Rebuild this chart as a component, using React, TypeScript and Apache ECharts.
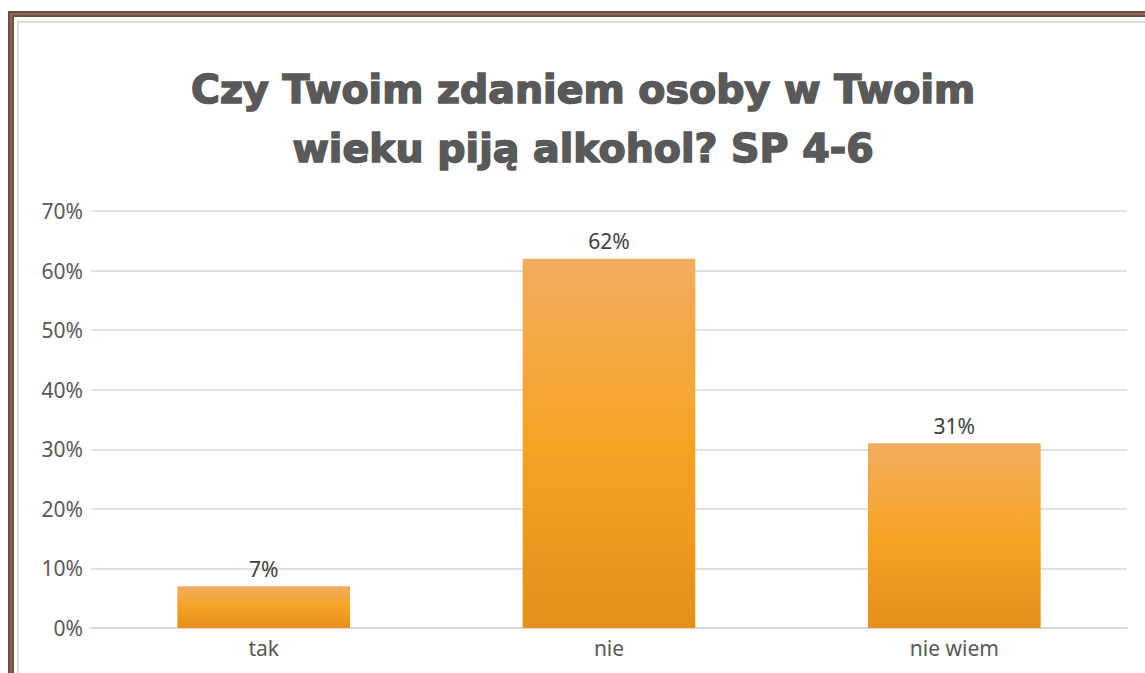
import React, { useEffect, useRef } from "react";
import * as echarts from "echarts";

const categories: string[] = ["tak", "nie", "nie wiem"];
const values: number[] = [7, 62, 31];
const yTicks = { min: 0, max: 70, interval: 10 };
const titleLines: string[] = ["Czy Twoim zdaniem osoby w Twoim", "wieku piją alkohol? SP 4-6"];

export default function App() {
  const ref = useRef<HTMLDivElement>(null);
  useEffect(() => {
    if (!ref.current) return;
    const chart = echarts.init(ref.current, null, { renderer: "svg" });
    const labelFont = "'Noto Sans', 'Open Sans', sans-serif";
    const titleFont = "bold 39.5px 'DejaVu Sans', sans-serif";
    chart.setOption({
      animation: false,
      backgroundColor: "#ffffff",
      grid: { left: 91, right: 18, top: 211, bottom: 45, containLabel: false },
      xAxis: {
        type: "category",
        data: categories,
        axisLine: { show: true, lineStyle: { color: "#D9D9D9", width: 2 } },
        axisTick: { show: false },
        axisLabel: { color: "#595959", fontSize: 21, fontFamily: labelFont, margin: 9 },
      },
      yAxis: {
        type: "value",
        min: yTicks.min,
        max: yTicks.max,
        interval: yTicks.interval,
        axisLine: { show: false },
        axisTick: { show: false },
        axisLabel: { color: "#595959", fontSize: 21, fontFamily: labelFont, margin: 8, formatter: "{value}%" },
        splitLine: { lineStyle: { color: "#D9D9D9", width: 1.5 } },
      },
      series: [
        {
          type: "bar",
          data: values,
          barWidth: "50%",
          itemStyle: {
            color: new echarts.graphic.LinearGradient(0, 0, 0, 1, [
              { offset: 0, color: "#F2AD5E" },
              { offset: 0.5, color: "#F6A324" },
              { offset: 1, color: "#E4901A" },
            ]),
          },
          label: {
            show: true,
            position: "top",
            distance: 7,
            color: "#404040",
            fontSize: 21,
            fontFamily: labelFont,
            formatter: "{c}%",
          },
        },
      ],
      graphic: [
        {
          type: "rect",
          shape: { x: 11, y: 14, width: 3000, height: 3000 },
          style: { fill: "none", stroke: "#6F4E42", lineWidth: 6 },
          silent: true,
        },
        {
          type: "rect",
          shape: { x: 11, y: 14, width: 3000, height: 3000 },
          style: { fill: "none", stroke: "#A4857A", lineWidth: 1 },
          silent: true,
        },
        {
          type: "rect",
          shape: { x: 18, y: 22, width: 3000, height: 3000 },
          style: { fill: "none", stroke: "#DCDCDC", lineWidth: 2 },
          silent: true,
        },
        {
          type: "text",
          x: 583,
          y: 89,
          style: {
            text: titleLines[0],
            fill: "#595959",
            stroke: "#595959",
            lineWidth: 1.6,
            font: titleFont,
            align: "center",
            verticalAlign: "middle",
          },
        },
        {
          type: "text",
          x: 583,
          y: 148,
          style: {
            text: titleLines[1],
            fill: "#595959",
            stroke: "#595959",
            lineWidth: 1.6,
            font: titleFont,
            align: "center",
            verticalAlign: "middle",
          },
        },
      ],
    });
    return () => chart.dispose();
  }, []);
  return (
    <div
      ref={ref}
      style={{ position: "fixed", left: 0, top: 0, width: 1145, height: 673 }}
    />
  );
}
